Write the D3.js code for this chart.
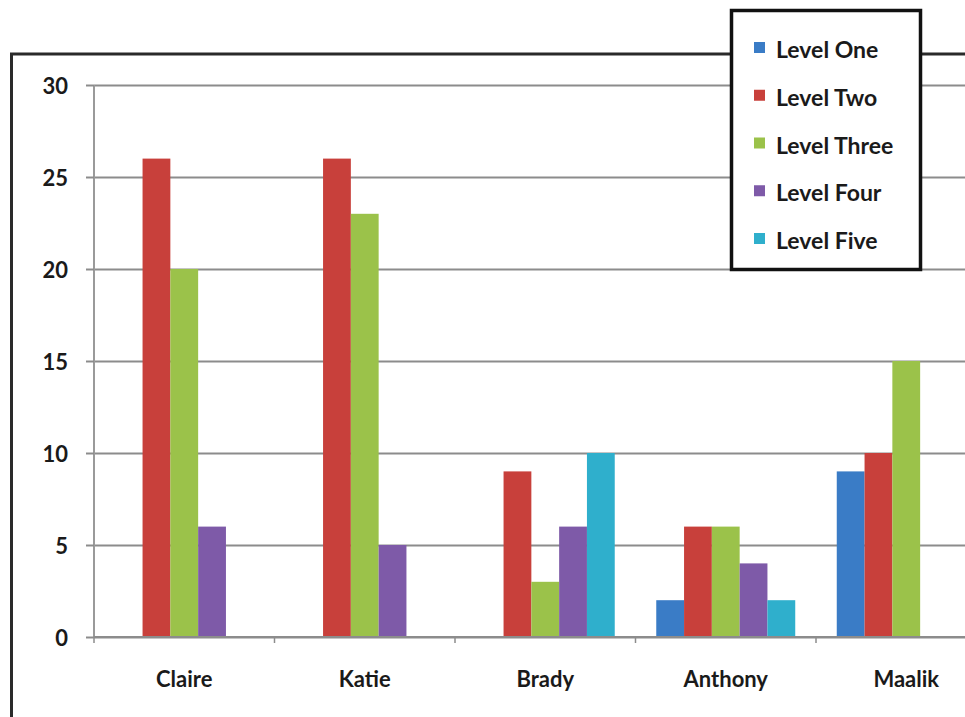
<!DOCTYPE html>
<html>
<head>
<meta charset="utf-8">
<script src="https://cdn.jsdelivr.net/npm/d3@7"></script>
<style>
  html, body { margin: 0; padding: 0; background: #fff; overflow: hidden; }
  svg { display: block; }
  text { font-family: Lato, "Open Sans", sans-serif; font-weight: bold; fill: #1a1a1a; }
</style>
</head>
<body>
<svg id="chart" width="965" height="717"></svg>
<script>
// Students and reading-level counts
const students = ["Claire", "Katie", "Brady", "Anthony", "Maalik"];
const levels = ["Level One", "Level Two", "Level Three", "Level Four", "Level Five"];
const levelOne   = [0, 0, 0, 2, 9];
const levelTwo   = [26, 26, 9, 6, 10];
const levelThree = [20, 23, 3, 6, 15];
const levelFour  = [6, 5, 6, 4, 0];
const levelFive  = [0, 0, 10, 2, 0];
const yTicks = [0, 5, 10, 15, 20, 25, 30];
const colors = ["#3a7cc6", "#c8403b", "#9bc24a", "#7e5aa8", "#2fafcc"];

const seriesValues = [levelOne, levelTwo, levelThree, levelFour, levelFive];

const svg = d3.select("#chart");

// Outer chart frame (runs past the right and bottom edges)
svg.append("rect")
  .attr("x", 11.5).attr("y", 54)
  .attr("width", 1100).attr("height", 1000)
  .attr("fill", "#fff")
  .attr("stroke", "#2a2a2a").attr("stroke-width", 3);

const plotLeft = 94, plotTop = 85, plotBottom = 637;
const band = 180.5;

const x0 = d3.scaleBand().domain(students)
  .range([plotLeft, plotLeft + band * students.length]).paddingInner(0).paddingOuter(0);
const gap = band * 0.115;
const x1 = d3.scaleBand().domain(levels).range([gap, band - gap]).padding(0);
const y = d3.scaleLinear().domain([0, 30]).range([plotBottom, plotTop]);

// Horizontal gridlines
const grid = svg.append("g").attr("transform", `translate(${plotLeft},0)`)
  .call(d3.axisLeft(y).tickValues(yTicks).tickSize(-1000).tickFormat(""));
grid.select(".domain").remove();
grid.selectAll("line").attr("stroke", "#8c8c8c").attr("stroke-width", 2);

// Y axis with small outer ticks and labels
const yAxis = svg.append("g").attr("transform", `translate(${plotLeft},0)`)
  .call(d3.axisLeft(y).tickValues(yTicks).tickSize(8).tickPadding(18));
yAxis.select(".domain").attr("stroke", "#9a9a9a").attr("stroke-width", 2)
  .attr("d", `M0,${plotTop}V${plotBottom}`);
yAxis.selectAll(".tick line").attr("stroke", "#8c8c8c").attr("stroke-width", 2);
yAxis.selectAll(".tick text")
  .style("font-family", "Lato, sans-serif").style("font-weight", "bold")
  .style("font-size", "22px").attr("fill", "#1a1a1a")
  .attr("dy", "0.4em");

// Bars
const groups = svg.append("g").selectAll("g")
  .data(students)
  .join("g")
  .attr("transform", d => `translate(${x0(d)},0)`);

groups.selectAll("rect")
  .data((s, i) => levels.map((l, k) => ({ level: l, value: seriesValues[k][i], k })))
  .join("rect")
  .attr("x", d => x1(d.level))
  .attr("width", x1.bandwidth())
  .attr("y", d => y(d.value))
  .attr("height", d => y(0) - y(d.value))
  .attr("fill", d => colors[d.k]);

// X axis baseline, category separators and labels
const xAxis = svg.append("g").attr("transform", `translate(0,${plotBottom})`)
  .call(d3.axisBottom(x0).tickSize(0).tickPadding(34));
xAxis.select(".domain").attr("stroke", "#8c8c8c").attr("stroke-width", 2)
  .attr("d", `M${plotLeft},0H1100`);
xAxis.selectAll(".tick text")
  .style("font-family", "Lato, sans-serif").style("font-weight", "bold")
  .style("font-size", "22px").attr("fill", "#1a1a1a");

svg.append("g").selectAll("line")
  .data(students.map(s => x0(s)).concat([x0(students[students.length - 1]) + band]))
  .join("line")
  .attr("x1", d => d).attr("x2", d => d)
  .attr("y1", plotBottom).attr("y2", plotBottom + 6)
  .attr("stroke", "#8c8c8c").attr("stroke-width", 1.5);

// Legend
const legend = svg.append("g");
legend.append("rect")
  .attr("x", 731.5).attr("y", 10.5).attr("width", 189).attr("height", 259)
  .attr("fill", "#fff").attr("stroke", "#111").attr("stroke-width", 3.5);

const ly = d3.scalePoint().domain(levels).range([50, 241]);
const items = legend.selectAll("g.item").data(levels).join("g")
  .attr("class", "item")
  .attr("transform", d => `translate(0,${ly(d)})`);
items.append("rect")
  .attr("x", 754).attr("y", -8).attr("width", 11).attr("height", 11)
  .attr("fill", (d, i) => colors[i]);
items.append("text")
  .attr("x", 776).attr("y", 0).attr("dy", "0.35em")
  .style("font-size", "23px")
  .text(d => d);
</script>
</body>
</html>
